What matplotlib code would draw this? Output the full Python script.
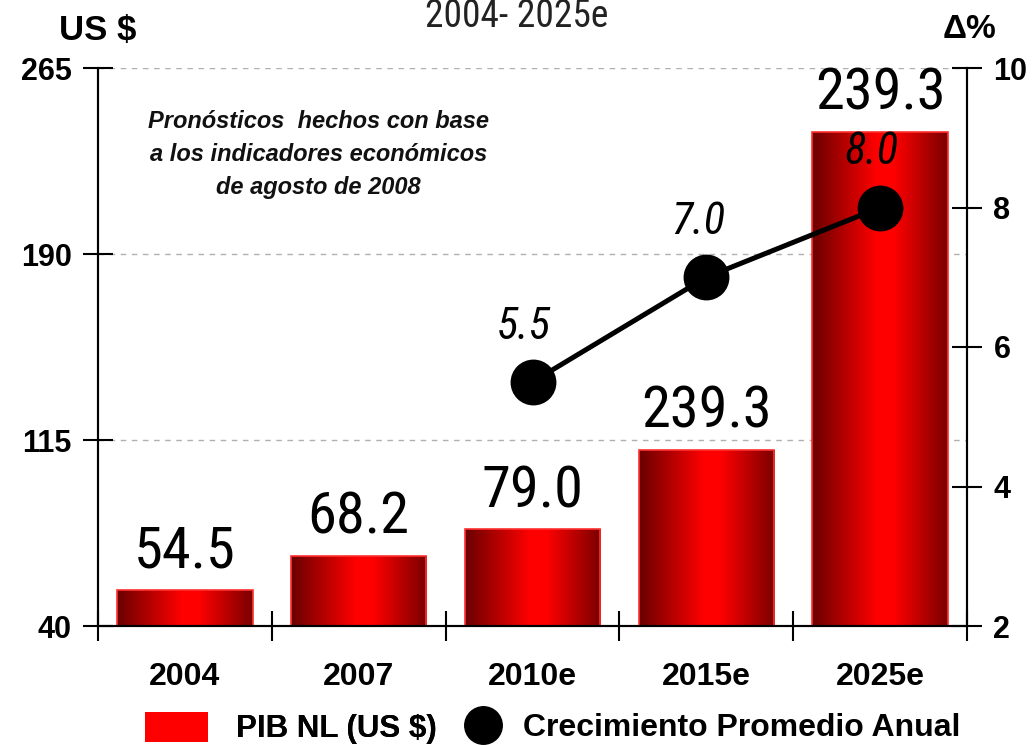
import numpy as np
import matplotlib
matplotlib.use("Agg")
import matplotlib.pyplot as plt
from matplotlib import font_manager
from matplotlib.font_manager import FontProperties
from matplotlib.colors import LinearSegmentedColormap
from matplotlib.patches import Patch
from matplotlib.lines import Line2D

# datos
years = ["2004", "2007", "2010e", "2015e", "2025e"]
pib = [54.5, 68.2, 79.0, 111.0, 239.3]
pib_labels = ["54.5", "68.2", "79.0", "239.3", "239.3"]
growth_years = ["2010e", "2015e", "2025e"]
growth = [5.5, 7.0, 8.0]
growth_labels = ["5.5", "7.0", "8.0"]
left_ticks = [40, 115, 190, 265]
right_ticks = [2, 4, 6, 8, 10]


# buscar una fuente angosta instalada (Arial Narrow no esta)
def narrow_font(italic=False):
    prefs = ["liberationsansnarrow", "robotocondensed", "notosans-condensed",
             "notosanscondensed", "dejavusanscondensed", "opensans-condensed",
             "opensanscondensed", "condensed", "narrow"]
    found = []
    for f in font_manager.fontManager.ttflist:
        fn = f.fname.lower().replace("_", "").replace(" ", "")
        base = fn.split("/")[-1]
        if "narrow" not in base and "condensed" not in base:
            continue
        if "extracondensed" in base or "semicondensed" in base or "ultra" in base:
            continue
        is_it = ("italic" in base) or ("oblique" in base)
        if is_it != italic:
            continue
        if any(w in base for w in ["bold", "light", "thin", "black", "medium", "semi", "extra"]):
            continue
        for i, p in enumerate(prefs):
            if p in base:
                found.append((i, f.fname))
                break
    if found:
        found.sort()
        return found[0][1]
    return None


nf = narrow_font(False)
nfi = narrow_font(True)


def fp(size, italic=False):
    path = nfi if italic else nf
    if path is None and italic and nf is not None:
        return FontProperties(fname=nf, size=size, style="italic")
    if path is None:
        return FontProperties(family=["Roboto", "DejaVu Sans"], size=size,
                              style="italic" if italic else "normal")
    return FontProperties(fname=path, size=size)


plt.rcParams["font.family"] = ["Liberation Sans", "DejaVu Sans"]

fig = plt.figure(figsize=(10.33, 7.45), dpi=100)
ax1 = fig.add_axes([98 / 1033, 1 - 626 / 745, (967 - 98) / 1033, (626 - 68) / 745])
ax2 = ax1.twinx()

x = np.arange(len(years))
cmap = LinearSegmentedColormap.from_list(
    "rojo", [(0, "#6a0000"), (0.48, "#ff0000"), (0.6, "#ff0000"), (1, "#7a0000")])
grad = np.linspace(0, 1, 256).reshape(1, -1)

bars = ax1.bar(x, np.array(pib) - 40, bottom=40, width=0.78,
               facecolor="none", edgecolor="#ff3030", linewidth=1.2, zorder=3)
for b in bars:
    x0 = b.get_x()
    im = ax1.imshow(grad, extent=[x0, x0 + b.get_width(), 40, 40 + b.get_height()],
                    aspect="auto", cmap=cmap, zorder=2)
    im.set_clip_path(b)

for xi, v, lab in zip(x, pib, pib_labels):
    ax1.annotate(lab, (xi, v), xytext=(0, 16), textcoords="offset points",
                 ha="center", va="baseline", fontproperties=fp(42), zorder=5)

ax1.set_xlim(-0.5, 4.5)
ax1.set_ylim(40, 265)
ax1.set_yticks(left_ticks)
ax1.yaxis.grid(True, linestyle=(0, (4, 4)), color="#b0b0b0", linewidth=1)
ax1.set_axisbelow(True)

ax1.set_xticks(np.arange(len(years) + 1) - 0.5)
ax1.set_xticklabels([])
ax1.set_xticks(x, minor=True)
ax1.set_xticklabels(years, minor=True, fontsize=23, fontweight="bold")
ax1.tick_params(axis="x", which="major", direction="inout", length=22, width=1.5)
ax1.tick_params(axis="x", which="minor", length=0, pad=26)
ax1.tick_params(axis="y", direction="inout", length=22, width=1.5, pad=8,
                labelsize=22)
for t in ax1.get_yticklabels():
    t.set_fontweight("bold")

ax1.spines["top"].set_visible(False)
ax2.spines["top"].set_visible(False)
for s in ["left", "bottom", "right"]:
    ax1.spines[s].set_linewidth(1.5)
    ax2.spines[s].set_linewidth(1.5)

# linea de crecimiento
gx = [years.index(y) for y in growth_years]
ax2.plot(gx, growth, color="black", linewidth=3.6, marker="o", markersize=32, zorder=6)
for xi, v, lab in zip(gx, growth, growth_labels):
    ax2.annotate(lab, (xi, v), xytext=(-6, 31), textcoords="offset points",
                 ha="center", va="baseline", fontproperties=fp(32, italic=True))
ax2.set_ylim(2, 10)
ax2.set_yticks(right_ticks)
ax2.tick_params(axis="y", direction="inout", length=22, width=1.5, pad=8,
                labelsize=22)
for t in ax2.get_yticklabels():
    t.set_fontweight("bold")

# textos
fig.text(0.5, 1 - 27 / 745, "2004- 2025e", ha="center", va="baseline",
         fontproperties=fp(27), color="#222222")
fig.text(98 / 1033, 1 - 40 / 745, "US $", ha="center", va="baseline",
         fontsize=25, fontweight="bold")
fig.text(970 / 1033, 1 - 38 / 745, "\u0394%", ha="center", va="baseline",
         fontsize=24, fontweight="bold")
ax1.text(0.77, 230, "Pronósticos  hechos con base\na los indicadores económicos\nde agosto de 2008",
         ha="center", va="center", fontsize=17, fontweight="bold", style="italic",
         linespacing=1.55, color="#111111")

# leyenda
leg1 = fig.legend([Patch(facecolor="#ff0000", edgecolor="none")], ["PIB NL (US $)"],
                  loc="center left", bbox_to_anchor=(117 / 1033, 1 - 728 / 745),
                  frameon=False, prop={"size": 22.5, "weight": "bold"},
                  handlelength=2.0, handleheight=1.1, handletextpad=0.9)
fig.legend([Line2D([], [], marker="o", color="black", linestyle="none", markersize=27)],
           ["Crecimiento Promedio Anual"],
           loc="center left", bbox_to_anchor=(438 / 1033, 1 - 728 / 745),
           frameon=False, prop={"size": 23, "weight": "bold"},
           handlelength=1.0, handletextpad=0.75)
fig.add_artist(leg1)

fig.savefig("out.png", dpi=100)
